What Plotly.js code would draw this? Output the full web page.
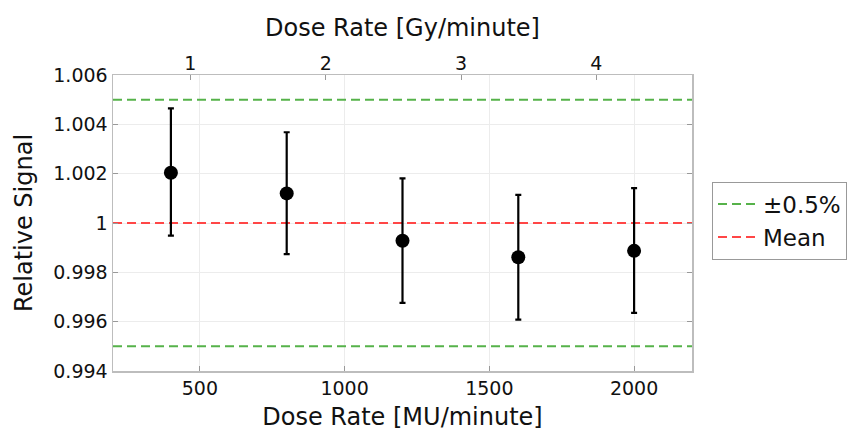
<!DOCTYPE html>
<html>
<head>
<meta charset="utf-8">
<script src="https://cdn.plot.ly/plotly-3.0.1.min.js"></script>
<style>html,body{margin:0;padding:0;background:#fff;}#chart{width:865px;height:433px;}</style>
</head>
<body>
<div id="chart"></div>
<script>
// Data
const doseRateMU = [400, 800, 1200, 1600, 2000];
const relSignal = [1.00204, 1.00120, 0.99928, 0.99861, 0.99887];
const errPlus = [0.00261, 0.00248, 0.00253, 0.00253, 0.00254];
const errMinus = [0.00255, 0.00246, 0.00252, 0.00253, 0.00251];
const toleranceLimits = [1.005, 0.995];
const meanValue = 1.0;
const xRangeMU = [200, 2200];
const xRangeGy = [0.428, 4.707];
const yTickVals = [0.994, 0.996, 0.998, 1.0, 1.002, 1.004, 1.006];
const yTickText = ['0.994', '0.996', '0.998', '1', '1.002', '1.004', '1.006'];
const xTickVals = [500, 1000, 1500, 2000];
const gyTickVals = [1, 2, 3, 4];

const green = 'rgb(86,178,74)';
const red = 'rgb(255,70,70)';
const font = 'DejaVu Sans, sans-serif';
const txt = '#111';
const dash = '9px,5px';

const traces = [
  {x: xRangeMU, y: [toleranceLimits[0], toleranceLimits[0]], mode: 'lines', name: '±0.5%',
   line: {color: green, width: 2, dash: dash}, legendgroup: 'tol', showlegend: true, hoverinfo: 'skip'},
  {x: xRangeMU, y: [toleranceLimits[1], toleranceLimits[1]], mode: 'lines', name: '±0.5%',
   line: {color: green, width: 2, dash: dash}, legendgroup: 'tol', showlegend: false, hoverinfo: 'skip'},
  {x: xRangeMU, y: [meanValue, meanValue], mode: 'lines', name: 'Mean',
   line: {color: red, width: 2, dash: dash}, showlegend: true, hoverinfo: 'skip'},
  {x: doseRateMU, y: relSignal, mode: 'markers', name: 'data', showlegend: false,
   marker: {color: 'black', size: 14},
   error_y: {type: 'data', symmetric: false, array: errPlus, arrayminus: errMinus,
             color: 'black', thickness: 2.2, width: 3}},
  {x: gyTickVals, y: [null, null, null, null], xaxis: 'x2', mode: 'markers', showlegend: false, hoverinfo: 'skip'}
];

const layout = {
  width: 865, height: 433,
  margin: {l: 113, r: 173, t: 75, b: 62},
  paper_bgcolor: '#fff', plot_bgcolor: '#fff',
  font: {family: font, size: 19, color: txt},
  xaxis: {
    range: xRangeMU, tickvals: xTickVals, ticks: 'inside', ticklen: 5, tickcolor: '#999',
    showgrid: true, gridcolor: '#ececec', gridwidth: 1, zeroline: false,
    showline: true, linecolor: '#bdbdbd', linewidth: 1.5, mirror: true,
    tickfont: {size: 19, family: font, color: txt},
    title: {text: 'Dose Rate [MU/minute]', font: {size: 24, family: font, color: txt}, standoff: 10}
  },
  xaxis2: {
    overlaying: 'x', side: 'top', range: xRangeGy, tickvals: gyTickVals,
    ticks: 'inside', ticklen: 5, tickcolor: '#999', showgrid: false, zeroline: false,
    tickfont: {size: 19, family: font, color: txt},
    title: {text: 'Dose Rate [Gy/minute]', font: {size: 24, family: font, color: txt}, standoff: 8}
  },
  yaxis: {
    range: [0.994, 1.006], tickvals: yTickVals, ticktext: yTickText,
    ticks: 'inside', ticklen: 5, tickcolor: '#999',
    showgrid: true, gridcolor: '#ececec', gridwidth: 1, zeroline: false,
    showline: true, linecolor: '#bdbdbd', linewidth: 1.5, mirror: 'ticks',
    tickfont: {size: 19, family: font, color: txt},
    title: {text: 'Relative Signal', font: {size: 24, family: font, color: txt}, standoff: 14}
  },
  legend: {
    x: 1.0345, xanchor: 'left', y: 0.64, yanchor: 'top',
    bgcolor: '#fff', bordercolor: '#999', borderwidth: 1,
    font: {size: 23, family: font, color: txt},
    tracegroupgap: 0, itemwidth: 40
  },
  showlegend: true
};

Plotly.newPlot('chart', traces, layout, {displayModeBar: false, staticPlot: true});
</script>
</body>
</html>
